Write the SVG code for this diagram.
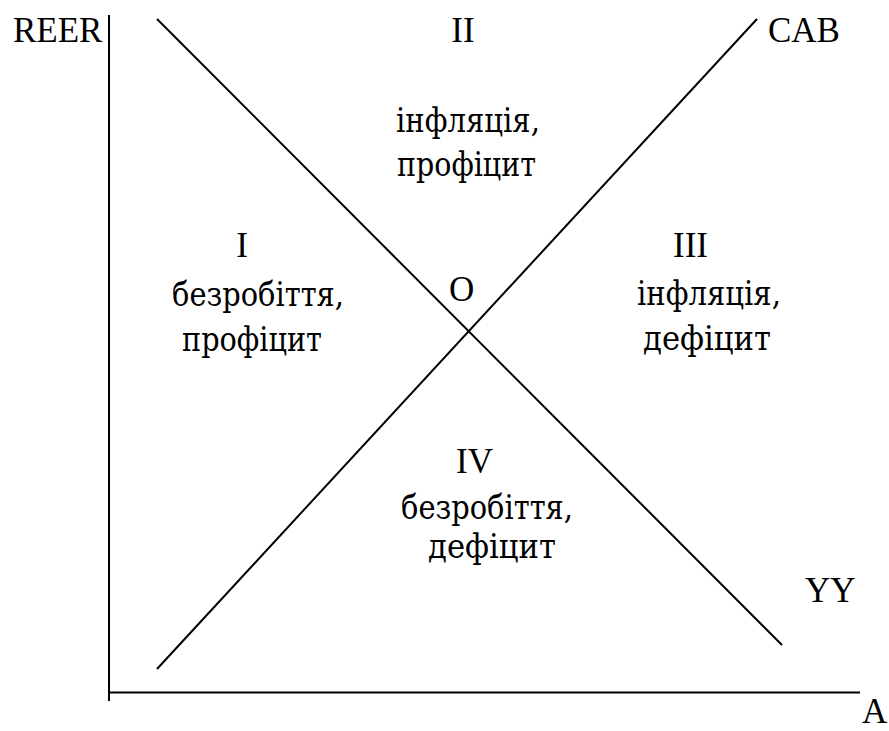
<svg xmlns="http://www.w3.org/2000/svg" width="889" height="731" viewBox="0 0 889 731">
<style>
text{font-family:"Liberation Serif","Times New Roman",serif;font-size:35px;fill:#000}
text.cy{font-family:"DejaVu Serif","Liberation Serif",serif;font-size:34px}
.ln{stroke:#000;stroke-width:2;fill:none}
</style>
<rect width="889" height="731" fill="#fff"/>
<g id="axes">
<line class="ln" x1="109" y1="15" x2="109" y2="701"/>
<line class="ln" x1="108" y1="692.5" x2="860" y2="692.5"/>
</g>
<g id="connectors">
<line class="ln" x1="157" y1="19" x2="782" y2="645"/>
<line class="ln" x1="157" y1="669" x2="757" y2="19"/>
</g>
<g id="labels">
<text x="13" y="42">REER</text>
<text x="463" y="42" text-anchor="middle">II</text>
<text x="768" y="42">CAB</text>
<text x="805" y="602">YY</text>
<text x="862" y="723">A</text>
<text x="449" y="301">O</text>
</g>
<g id="region-II">
<text class="cy" x="396" y="132" textLength="144" lengthAdjust="spacingAndGlyphs">інфляція,</text>
<text class="cy" x="397" y="176" textLength="139" lengthAdjust="spacingAndGlyphs">профіцит</text>
</g>
<g id="region-I">
<text x="242" y="257" text-anchor="middle">I</text>
<text class="cy" x="172" y="306" textLength="172" lengthAdjust="spacingAndGlyphs">безробіття,</text>
<text class="cy" x="182" y="351" textLength="140" lengthAdjust="spacingAndGlyphs">профіцит</text>
</g>
<g id="region-III">
<text x="673" y="257">III</text>
<text class="cy" x="637" y="305" textLength="144" lengthAdjust="spacingAndGlyphs">інфляція,</text>
<text class="cy" x="643" y="350" textLength="128" lengthAdjust="spacingAndGlyphs">дефіцит</text>
</g>
<g id="region-IV">
<text x="456" y="473">IV</text>
<text class="cy" x="401" y="519" textLength="172" lengthAdjust="spacingAndGlyphs">безробіття,</text>
<text class="cy" x="428" y="558" textLength="128" lengthAdjust="spacingAndGlyphs">дефіцит</text>
</g>
</svg>
